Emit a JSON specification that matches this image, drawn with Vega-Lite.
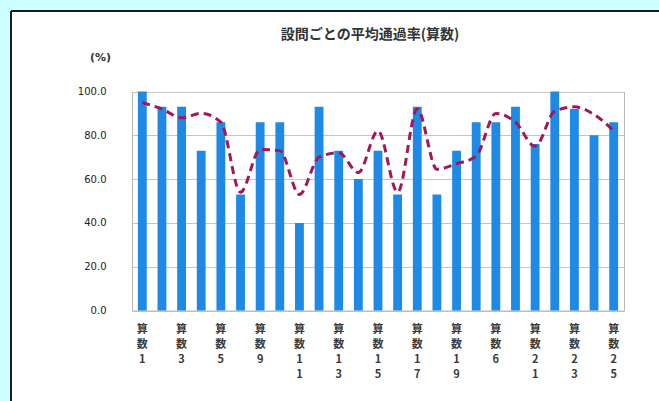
{
  "$schema": "https://vega.github.io/schema/vega-lite/v6.json",
  "width": 648,
  "height": 390,
  "autosize": {"type": "none"},
  "padding": {"left": 11, "top": 11, "right": 0, "bottom": 0},
  "background": "#CCFFFF",
  "config": {
    "view": {"fill": "white", "stroke": "#1a1a1a", "strokeWidth": 2, "strokeDash": [648, 1038, 390, 0]},
    "font": "DejaVu Sans"
  },
  "title": {
    "text": "設問ごとの平均通過率(算数)",
    "font": "Noto Sans CJK JP",
    "fontSize": 14,
    "fontWeight": "bold",
    "color": "#333333",
    "anchor": "middle",
    "frame": "group",
    "offset": -31,
    "dx": 35
  },
  "data": {
    "values": [
      {"q": "算数1", "bar": 100, "line": 95},
      {"q": "算数2", "bar": 93, "line": 92},
      {"q": "算数3", "bar": 93, "line": 88},
      {"q": "算数4", "bar": 73, "line": 90},
      {"q": "算数5", "bar": 86, "line": 86},
      {"q": "算数7", "bar": 53, "line": 54},
      {"q": "算数9", "bar": 86, "line": 73.5},
      {"q": "算数10", "bar": 86, "line": 73},
      {"q": "算数11", "bar": 40, "line": 53},
      {"q": "算数12", "bar": 93, "line": 70},
      {"q": "算数13", "bar": 73, "line": 72},
      {"q": "算数14", "bar": 60, "line": 63},
      {"q": "算数15", "bar": 73, "line": 82},
      {"q": "算数16", "bar": 53, "line": 54},
      {"q": "算数17", "bar": 93, "line": 92},
      {"q": "算数18", "bar": 53, "line": 64.5},
      {"q": "算数19", "bar": 73, "line": 67},
      {"q": "算数20", "bar": 86, "line": 70.5},
      {"q": "算数6", "bar": 86, "line": 90},
      {"q": "算数8", "bar": 93, "line": 86},
      {"q": "算数21", "bar": 76, "line": 75},
      {"q": "算数22", "bar": 100, "line": 91},
      {"q": "算数23", "bar": 92, "line": 93},
      {"q": "算数24", "bar": 80, "line": 89.5},
      {"q": "算数25", "bar": 86, "line": 82}
    ]
  },
  "encoding": {
    "x": {
      "field": "q",
      "type": "nominal",
      "sort": null,
      "scale": {"range": [121, 613], "paddingInner": 0.55, "paddingOuter": 0.3},
      "axis": {
        "title": null,
        "offset": -90.5,
        "values": ["算数1", "算数3", "算数5", "算数9", "算数11", "算数13", "算数15", "算数17", "算数19", "算数6", "算数21", "算数23", "算数25"],
        "labelExpr": "split(datum.value, '')",
        "labelAngle": 0,
        "labelAlign": "center",
        "labelBaseline": "top",
        "labelPadding": 13,
        "labelLineHeight": 15,
        "labelFont": "Noto Sans CJK JP",
        "labelFontSize": 11,
        "labelFontWeight": "bold",
        "labelColor": "#3a3a3a",
        "labelOverlap": false,
        "ticks": false,
        "grid": false,
        "domainColor": "#b8b8b8",
        "domainWidth": 1
      }
    }
  },
  "layer": [
    {
      "mark": {"type": "bar", "color": "#1E8AE6"},
      "encoding": {
        "y": {
          "field": "bar",
          "type": "quantitative",
          "scale": {"domain": [0, 100], "range": [299.5, 80.5], "nice": false, "zero": true},
          "axis": {
            "title": "(%)",
            "titleAngle": 0,
            "titleX": -32,
            "titleY": 46,
            "titleAlign": "center",
            "titleBaseline": "middle",
            "titleFontSize": 11,
            "titleFontWeight": "bold",
            "titleColor": "#333333",
            "format": ".1f",
            "values": [0, 20, 40, 60, 80, 100],
            "offset": -121,
            "ticks": false,
            "labelPadding": 26,
            "labelFontSize": 10,
            "labelColor": "#222222",
            "domainColor": "#b8b8b8",
            "gridColor": "#c4c4c4",
            "gridWidth": 1
          }
        }
      }
    },
    {
      "mark": {"type": "line", "color": "#A0185A", "strokeWidth": 3, "strokeDash": [8, 5], "interpolate": "monotone"},
      "encoding": {
        "y": {
          "field": "line",
          "type": "quantitative",
          "axis": {
            "orient": "right",
            "offset": -35,
            "title": null,
            "labels": false,
            "ticks": false,
            "grid": false,
            "domainColor": "#b8b8b8"
          }
        }
      }
    }
  ],
  "resolve": {"axis": {"y": "independent"}}
}
